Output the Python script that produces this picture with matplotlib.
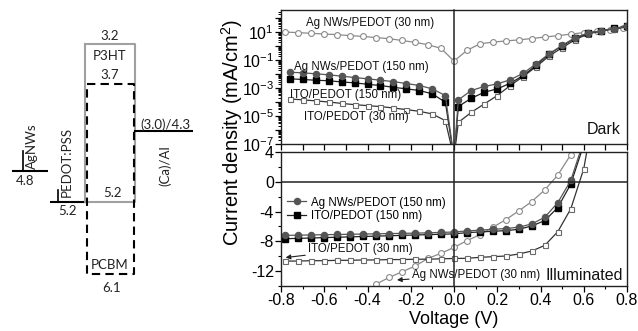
import matplotlib
matplotlib.use('Agg')
import matplotlib.pyplot as plt
from matplotlib import font_manager
from matplotlib.ticker import LogLocator, FuncFormatter, MultipleLocator, NullFormatter, FormatStrFormatter
import numpy as np

names = {f.name for f in font_manager.fontManager.ttflist}
SANS = 'Liberation Sans'
HAS_NARROW = 'Liberation Sans Narrow' in names
NARROW = 'Liberation Sans Narrow' if HAS_NARROW else 'Liberation Sans'
NSIZE = 10 if HAS_NARROW else 8.3
DIAG = 'Lato' if 'Lato' in names else 'DejaVu Sans'

plt.rcParams['font.family'] = [SANS, 'DejaVu Sans']
plt.rcParams['axes.unicode_minus'] = False
plt.rcParams['mathtext.fontset'] = 'custom'
plt.rcParams['mathtext.rm'] = SANS
plt.rcParams['mathtext.it'] = SANS + ':italic'
plt.rcParams['mathtext.bf'] = SANS + ':bold'

# ---------------- energy diagram data (eV) ----------------
E_agnws = 4.8
E_pedot = 5.2
E_p3ht = (3.2, 5.2)
E_pcbm = (3.7, 6.1)
E_cathode = 4.3

# ---------------- dark J-V (mA/cm2) ----------------
v_dark_ag30 = [-0.78, -0.72, -0.66, -0.60, -0.54, -0.48, -0.42, -0.36, -0.30, -0.24, -0.18, -0.12, -0.06,
               0.00, 0.06, 0.12, 0.18, 0.24, 0.30, 0.36, 0.42, 0.48, 0.54, 0.60, 0.66, 0.72, 0.78]
j_dark_ag30 = [10.5, 9.5, 8.5, 7.6, 6.8, 5.8, 5.1, 4.2, 3.5, 2.6, 1.9, 1.3, 0.71,
               0.087, 0.51, 1.5, 2.0, 2.4, 2.9, 3.6, 4.6, 5.8, 7.4, 9.6, 12.3, 15.8, 20.4]

v_dark_low = [-0.76, -0.70, -0.64, -0.58, -0.52, -0.46, -0.40, -0.34, -0.28, -0.22, -0.16, -0.10, -0.04,
              0.00,
              0.02, 0.08, 0.14, 0.20, 0.26, 0.32, 0.38, 0.44, 0.50, 0.56, 0.62, 0.68, 0.74, 0.80]
j_dark_ag150 = [1.38e-2, 1.26e-2, 1.07e-2, 9.1e-3, 7.2e-3, 5.8e-3, 4.7e-3, 3.7e-3, 2.95e-3, 2.14e-3, 1.55e-3, 8.9e-4, 2.95e-4,
                1e-8,
                1.45e-4, 6.8e-4, 1.32e-3, 2.04e-3, 4.0e-3, 1.17e-2, 5.6e-2, 0.295, 1.15, 4.2, 8.9, 13.2, 18.6, 26.9]
j_dark_ito150 = [4.7e-3, 4.2e-3, 3.7e-3, 3.4e-3, 2.8e-3, 2.4e-3, 1.9e-3, 1.55e-3, 1.15e-3, 8.9e-4, 6.8e-4, 3.9e-4, 9.8e-5,
                 1e-8,
                 4.8e-5, 1.9e-4, 5.1e-4, 8.9e-4, 2.24e-3, 8.1e-3, 4.3e-2, 0.28, 1.07, 3.7, 8.3, 12.6, 19.1, 28.2]
j_dark_ito30 = [1.7e-4, 1.45e-4, 1.23e-4, 1.02e-4, 8.1e-5, 6.6e-5, 5.6e-5, 4.8e-5, 3.8e-5, 2.9e-5, 2.2e-5, 1.41e-5, 4.7e-6,
                1e-8,
                3.5e-6, 1.86e-5, 7.4e-5, 2.95e-4, 1.55e-3, 6.8e-3, 3.5e-2, 0.2, 0.79, 2.95, 7.9, 12.3, 17.4, 24.0]

# ---------------- illuminated J-V (mA/cm2) ----------------
v_ill = [-0.78, -0.72, -0.66, -0.60, -0.54, -0.48, -0.42, -0.36, -0.30, -0.24, -0.18, -0.12, -0.06,
         0.00, 0.06, 0.12, 0.18, 0.24, 0.30, 0.36, 0.42, 0.48, 0.54, 0.60]
j_ill_ag150 = [-7.2, -7.17, -7.14, -7.11, -7.08, -7.05, -7.02, -6.99, -6.96, -6.93, -6.9, -6.86, -6.8,
               -6.75, -6.6, -6.5, -6.38, -6.28, -6.1, -5.66, -4.76, -2.8, 0.18, 5.5]
j_ill_ito150 = [-7.65, -7.6, -7.55, -7.5, -7.45, -7.4, -7.35, -7.3, -7.25, -7.2, -7.15, -7.1, -7.05,
                -7.0, -6.83, -6.74, -6.65, -6.56, -6.38, -5.93, -5.21, -3.46, -0.31, 5.0]
v_ill_ito30 = v_ill + [0.62]
j_ill_ito30 = [-10.65, -10.65, -10.6, -10.6, -10.55, -10.55, -10.5, -10.5, -10.45, -10.45, -10.4, -10.4, -10.35,
               -10.3, -10.28, -10.15, -10.06, -9.97, -9.7, -9.3, -8.54, -6.7, -3.64, 1.75, 5.0]
v_ill_ag30 = [-0.36, -0.30, -0.24, -0.18, -0.12, -0.06, 0.00, 0.06, 0.12, 0.18, 0.24, 0.30, 0.36, 0.42, 0.48, 0.54]
j_ill_ag30 = [-13.75, -12.85, -12.09, -11.32, -10.29, -9.61, -8.81, -7.91, -7.1, -6.1, -5.08, -3.9, -2.65, -1.08, 0.9, 3.64]

lbl_ag30 = 'Ag NWs/PEDOT (30 nm)'
lbl_ag150 = 'Ag NWs/PEDOT (150 nm)'
lbl_ito150 = 'ITO/PEDOT (150 nm)'
lbl_ito30 = 'ITO/PEDOT (30 nm)'

C_AG30 = '#8a8a8a'
C_AG150 = '#555555'
C_ITO150 = '#000000'
C_ITO30 = '#6a6a6a'

W, H = 638, 331
fig = plt.figure(figsize=(W / 100, H / 100), dpi=100)

# ================= energy level diagram =================
axe = fig.add_axes([0, 0, 200 / W, 1])
axe.set_xlim(0, 200)
axe.set_ylim(6.827, 2.637)
axe.axis('off')
PT = 0.72  # points per pixel
dk = dict(color='black', lw=1.5, solid_capstyle='butt')
tk = dict(family=DIAG, fontsize=9.5, color='#222222')

def lab(x, e, s, dy_px, **kw):
    axe.annotate(s, (x, e), xytext=(0, -dy_px * PT), textcoords='offset points',
                 ha=kw.pop('ha', 'center'), va=kw.pop('va', 'center'), **tk, **kw)

# AgNWs
axe.plot([12, 48], [E_agnws, E_agnws], **dk)
axe.plot([23, 23], [E_agnws, E_agnws - 20 / 79], color='black', lw=1.2)
lab(25, E_agnws, '%.1f' % E_agnws, 10)
axe.annotate('AgNWs', (25.5, E_agnws), xytext=(0, 2 * PT), textcoords='offset points',
             rotation=90, ha='left', va='bottom', **tk)
# PEDOT:PSS
axe.plot([50, 86], [E_pedot, E_pedot], **dk)
axe.plot([58, 58], [E_pedot, E_pedot - 12 / 79], color='black', lw=1.2)
lab(67, E_pedot, '%.1f' % E_pedot, 9)
axe.annotate('PEDOT:PSS', (60.5, E_pedot), xytext=(0, 5 * PT), textcoords='offset points',
             rotation=90, ha='left', va='bottom', **tk)
# P3HT box (gray solid)
axe.plot([85, 135, 135, 85, 85], [E_p3ht[0], E_p3ht[0], E_p3ht[1], E_p3ht[1], E_p3ht[0]],
         color='#a0a0a0', lw=1.5)
lab(110, E_p3ht[0], '%.1f' % E_p3ht[0], -8.5)
lab(110, E_p3ht[0], 'P3HT', 11.5)
lab(112, E_p3ht[1], '%.1f' % E_p3ht[1], -9)
# PCBM box (black dashed)
axe.plot([87, 134, 134, 87, 87], [E_pcbm[0], E_pcbm[0], E_pcbm[1], E_pcbm[1], E_pcbm[0]],
         color='black', lw=1.5, ls=(0, (4, 2.5)))
lab(110, E_pcbm[0], '%.1f' % E_pcbm[0], -9)
lab(110, E_pcbm[1], 'PCBM', -9)
lab(112, E_pcbm[1], '%.1f' % E_pcbm[1], 14)
# cathode
axe.plot([134, 193], [E_cathode, E_cathode], **dk)
lab(165, E_cathode, '(3.0)/%.1f' % E_cathode, -7)
axe.annotate('(Ca)/Al', (165, E_cathode), xytext=(0, -34 * PT), textcoords='offset points',
             rotation=90, ha='center', va='center', **tk)

# ================= J-V panels =================
L, R = 281, 627
ax1 = fig.add_axes([L / W, (H - 144) / H, (R - L) / W, 134 / H])
ax2 = fig.add_axes([L / W, (H - 286) / H, (R - L) / W, 134 / H])

mk = dict(lw=0.9)
low_marks = [i for i in range(len(v_dark_low)) if i != 13]
ax1.plot(v_dark_ag30, j_dark_ag30, color=C_AG30, marker='o', ms=4.2, mfc='white', mec=C_AG30, mew=0.8, **mk)
ax1.plot(v_dark_low, j_dark_ito30, color='#333333', marker='s', ms=3.6, mfc='white', mec=C_ITO30, mew=0.8,
         markevery=low_marks, **mk)
ax1.plot(v_dark_low, j_dark_ito150, color='#222222', marker='s', ms=3.8, mfc=C_ITO150, mec=C_ITO150,
         markevery=low_marks, **mk)
ax1.plot(v_dark_low, j_dark_ag150, color=C_AG150, marker='o', ms=4.4, mfc=C_AG150, mec=C_AG150,
         markevery=low_marks, **mk)
ax1.set_yscale('log')
ax1.set_ylim(1e-7, 10 ** 2.6)
ax1.set_xlim(-0.8, 0.8)
ax1.axvline(0, color='#222222', lw=1.1, ymin=-0.06, clip_on=False)

ax1.yaxis.set_major_locator(LogLocator(base=10, numticks=20))
ax1.yaxis.set_minor_locator(LogLocator(base=10, subs=np.arange(2, 10), numticks=20))
ax1.yaxis.set_minor_formatter(NullFormatter())

def logfmt(v, pos):
    e = int(round(np.log10(v)))
    return r'$10^{%d}$' % e if e % 2 != 0 else ''
ax1.yaxis.set_major_formatter(FuncFormatter(logfmt))
ax1.xaxis.set_major_locator(MultipleLocator(0.2))
ax1.xaxis.set_minor_locator(MultipleLocator(0.1))
ax1.tick_params(axis='x', which='both', labelbottom=False, direction='out', length=4.5, width=0.9)
ax1.tick_params(axis='y', which='major', direction='out', length=4, width=0.9, labelsize=11.5, pad=1)
ax1.tick_params(axis='y', which='minor', direction='out', length=2.2, width=0.7)

tkw = dict(family=NARROW, fontsize=NSIZE, color='#111111', ha='center', va='center')
ax1.text(-0.39, 10 ** 1.65, lbl_ag30, **tkw)
ax1.text(-0.43, 10 ** -1.5, lbl_ag150, **tkw)
ax1.text(-0.50, 10 ** -3.46, lbl_ito150, **tkw)
ax1.text(-0.45, 10 ** -5.08, lbl_ito30, **tkw)
ax1.text(0.983, 0.105, 'Dark', transform=ax1.transAxes, ha='right', va='center', fontsize=11.5, color='#111111')

# illuminated
ax2.plot(v_ill_ag30, j_ill_ag30, color=C_AG30, marker='o', ms=4.2, mfc='white', mec=C_AG30, mew=0.8, **mk)
ax2.plot(v_ill_ito30, j_ill_ito30, color='#333333', marker='s', ms=3.6, mfc='white', mec=C_ITO30, mew=0.8, **mk)
h_ito150, = ax2.plot(v_ill, j_ill_ito150, color='#222222', marker='s', ms=3.8, mfc=C_ITO150, mec=C_ITO150, **mk)
h_ag150, = ax2.plot(v_ill, j_ill_ag150, color=C_AG150, marker='o', ms=4.4, mfc=C_AG150, mec=C_AG150, **mk)
ax2.set_xlim(-0.8, 0.8)
ax2.set_ylim(-14, 4)
ax2.axvline(0, color='#222222', lw=1.1)
ax2.axhline(0, color='#222222', lw=1.1)
ax2.yaxis.set_major_locator(MultipleLocator(4))
ax2.yaxis.set_minor_locator(MultipleLocator(2))
ax2.xaxis.set_major_locator(MultipleLocator(0.2))
ax2.xaxis.set_minor_locator(MultipleLocator(0.1))
ax2.xaxis.set_major_formatter(FormatStrFormatter('%.1f'))
ax2.tick_params(axis='both', which='major', direction='out', length=4, width=0.9, labelsize=11.5, pad=1)
ax2.tick_params(axis='both', which='minor', direction='out', length=2.5, width=0.8)

leg = ax2.legend([h_ag150, h_ito150], [lbl_ag150, lbl_ito150], loc='upper left',
                 bbox_to_anchor=(0.01, 0.685), frameon=False, handlelength=1.7, handletextpad=0.4,
                 labelspacing=0.12, borderaxespad=0.2, borderpad=0.0,
                 prop={'family': NARROW, 'size': NSIZE})

arrow = dict(arrowstyle='-|>', color='#222222', lw=0.8, mutation_scale=7, shrinkA=0, shrinkB=1)
ax2.annotate(lbl_ito30, xy=(-0.785, -10.2), xytext=(-0.675, -9.0), ha='left', va='center',
             arrowprops=arrow, family=NARROW, fontsize=NSIZE, color='#111111')
ax2.annotate(lbl_ag30, xy=(-0.27, -13.2), xytext=(-0.195, -12.5), ha='left', va='center',
             arrowprops=arrow, family=NARROW, fontsize=NSIZE, color='#111111')
ax2.text(0.988, 0.082, 'Illuminated', transform=ax2.transAxes, ha='right', va='center', fontsize=11.5,
         color='#111111')

for ax in (ax1, ax2):
    for s in ax.spines.values():
        s.set_linewidth(1.0)
        s.set_color('#222222')

ax2.set_xlabel('Voltage (V)', fontsize=13, labelpad=2)
fig.text(232 / W, (H - 132) / H, 'Current density (mA/cm$^2$)', rotation=90, ha='center', va='center',
         fontsize=14.5)

fig.savefig('out.png', dpi=100)
